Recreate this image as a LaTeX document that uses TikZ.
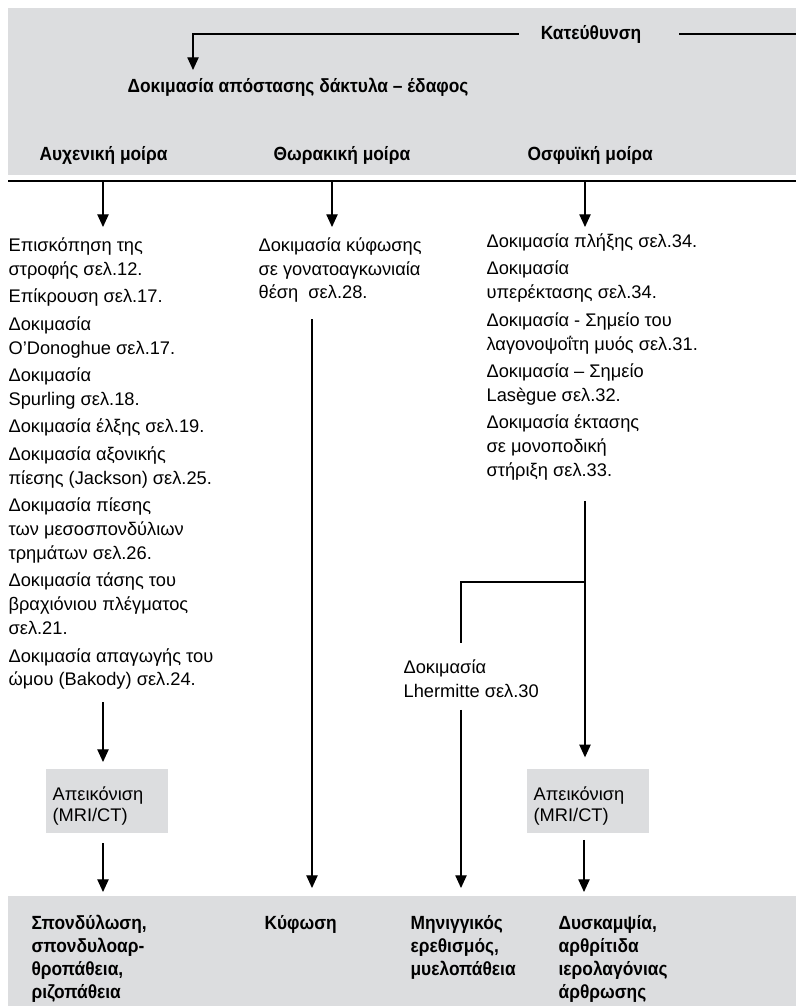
\documentclass[tikz,border=0pt]{standalone}
\usepackage{fontspec}
\setmainfont{Liberation Sans}
\newfontfamily\condfont[FakeStretch=0.91]{Liberation Sans}
\usetikzlibrary{positioning,arrows.meta,calc}

\definecolor{bandgray}{RGB}{220,221,223}
\newcommand{\bodysize}{\fontsize{13.7pt}{17.85pt}\selectfont}
\newcommand{\boxsize}{\fontsize{13.7pt}{15.75pt}\selectfont}
\newcommand{\headsize}{\condfont\fontsize{14.3pt}{17.25pt}\selectfont\bfseries}
\newcommand{\egap}{2.8pt}

\begin{document}
\begin{tikzpicture}[
		x=0.75pt, y=-0.75pt,
		> = {Triangle[length=9.5pt,width=8.5pt]},
		line width=0.9pt,
		head/.style = {font=\headsize, inner sep=0pt, anchor=west},
		tests/.style = {font=\bodysize, align=left, inner sep=0pt, anchor=north west},
		imaging/.style = {font=\boxsize, align=left, fill=bandgray, anchor=north west,
			text width=81pt, inner xsep=5.25pt, inner ysep=0pt, minimum height=48pt},
		result/.style = {font=\headsize, align=left, inner sep=0pt, anchor=north west}
		]
		\useasboundingbox (0,0) rectangle (796,1006);
		\fill[bandgray] (8,8) rectangle (796,175);
		\fill[bandgray] (8,896) rectangle (796,1006);
		
		% direction of the test
		\node[head, anchor=center] (dir) at (591,34) {Κατεύθυνση};
		\node[head] (title) at (127,87) {Δοκιμασία απόστασης δάκτυλα – έδαφος};
		\coordinate (dirtip) at (193,70);
		\coordinate (dirend) at (796,34);
		\draw[->] ([xshift=-16pt]dir.west) -| (dirtip);
		\draw ([xshift=28pt]dir.east) -- (dirend);
		
		\node[head] (cerv) at (39,155) {Αυχενική μοίρα};
		\node[head] (thor) at (273,155) {Θωρακική μοίρα};
		\node[head] (lumb) at (527,155) {Οσφυϊκή μοίρα};
		
		\coordinate (ruleL) at (8,181);
		\coordinate (ruleR) at (796,181);
		\draw (ruleL) -- (ruleR);
		\coordinate (xL) at (103,181);
		\coordinate (xM) at (332,181);
		\coordinate (xR) at (585,181);
		\coordinate (xK) at (312,181);
		\coordinate (xLh) at (461,181);
		\coordinate (bandtop) at (0,896);
		
		% tests per region
		\node[tests] (cervtests) at (8,237) {Επισκόπηση της\\στροφής σελ.12.\\[\egap]
			Επίκρουση σελ.17.\\[\egap]
			Δοκιμασία\\O’Donoghue σελ.17.\\[\egap]
			Δοκιμασία\\Spurling σελ.18.\\[\egap]
			Δοκιμασία έλξης σελ.19.\\[\egap]
			Δοκιμασία αξονικής\\πίεσης (Jackson) σελ.25.\\[\egap]
			Δοκιμασία πίεσης\\των μεσοσπονδύλιων\\τρημάτων σελ.26.\\[\egap]
			Δοκιμασία τάσης του\\βραχιόνιου πλέγματος\\σελ.21.\\[\egap]
			Δοκιμασία απαγωγής του\\ώμου (Bakody) σελ.24.};
		\node[tests] (thortests) at (258,237) {Δοκιμασία κύφωσης\\σε γονατοαγκωνιαία\\θέση\ \ σελ.28.};
		\node[tests] (lumbtests) at (486,233) {Δοκιμασία πλήξης σελ.34.\\[\egap]
			Δοκιμασία\\υπερέκτασης σελ.34.\\[\egap]
			Δοκιμασία - Σημείο του\\λαγονοψοΐτη μυός σελ.31.\\[\egap]
			Δοκιμασία – Σημείο\\Lasègue σελ.32.\\[\egap]
			Δοκιμασία έκτασης\\σε μονοποδική\\στήριξη σελ.33.};
		\node[tests] (lherm) at (403,659) {Δοκιμασία\\Lhermitte σελ.30};
		
		\node[imaging] (imgL) at (45,768) {\rule{0pt}{18pt}Απεικόνιση\\(MRI/CT)};
		\node[imaging] (imgR) at (526,768) {\rule{0pt}{18pt}Απεικόνιση\\(MRI/CT)};
		
		% arrows
		\draw[->] (xL) -- ([yshift=7.5pt]xL |- cervtests.north);
		\draw[->] (xM) -- ([yshift=7.5pt]xM |- thortests.north);
		\draw[->] (xR) -- ([yshift=7.5pt]xR |- cervtests.north);
		\draw[->, shorten <=9pt, shorten >=4.5pt] (xL |- cervtests.south) -- (xL |- imgL.north);
		\draw[->, shorten <=7.5pt, shorten >=3pt] (xL |- imgL.south) -- (xL |- bandtop);
		\draw[->, shorten <=12pt, shorten >=6pt] (xK |- thortests.south) -- (xK |- bandtop);
		\draw[->, shorten <=15pt, shorten >=8pt] (xR |- lumbtests.south) -- (xR |- imgR.north);
		\coordinate (split) at (585,582);
		\draw[shorten >=12pt] (split) -| (xLh |- lherm.north);
		\draw[->, shorten <=9pt, shorten >=6pt] (xLh |- lherm.south) -- (xLh |- bandtop);
		\draw[->, shorten <=5pt, shorten >=3pt] ([xshift=-0.75pt]xR |- imgR.south) -- ([xshift=-0.75pt]xR |- bandtop);
		
		% outcomes
		\node[result] (spond) at (31,915) {Σπονδύλωση,\\σπονδυλοαρ-\\θροπάθεια,\\ριζοπάθεια};
		\node[result] (kyph) at (264,915) {Κύφωση};
		\node[result] (mening) at (410,915) {Μηνιγγικός\\ερεθισμός,\\μυελοπάθεια};
		\node[result] (stiff) at (558,915) {Δυσκαμψία,\\αρθρίτιδα\\ιερολαγόνιας\\άρθρωσης};
	\end{tikzpicture}
\end{document}
